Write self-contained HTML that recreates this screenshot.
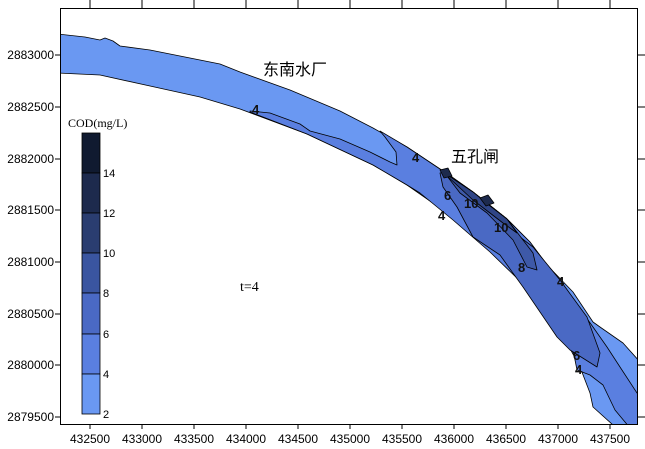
<!DOCTYPE html>
<html><head><meta charset="utf-8"><style>
body{margin:0;background:#fff;width:645px;height:449px;overflow:hidden}
svg{display:block;font-family:"Liberation Sans",Arial,sans-serif}
</style></head><body>
<svg width="645" height="449" viewBox="0 0 645 449">
<defs><clipPath id="c"><rect x="60" y="8" width="577" height="416"/></clipPath></defs>
<g clip-path="url(#c)" stroke="#000" stroke-width="0.8" stroke-linejoin="round">
<path fill="#6a98f2" d="M58,34 L85,37 L100,40 L105,38 L113,41 L120,46 L150,50 L180,56 L220,64 L240,72 L290,90 L340,111 L373,128 L407,147 L440,169 L473,192 L507,219 L530,242 L547,265 L573,292 L593,322 L600,327 L623,343 L640,362 L640,428 L613,425 L593,407 L590,393 L580,367 L567,343 L547,315 L523,283 L500,257 L473,237 L440,208 L407,185 L373,165 L307,134 L240,109 L200,97 L150,86 L100,75 L58,73 Z"/>
<path fill="#5a7fe0" d="M250,111 L270,113 L300,124 L310,131 L340,139 L370,152 L390,162 L397,165 L396,152 L385,137 L380,131 L407,147 L440,169 L473,192 L507,219 L530,242 L545,262 L560,280 L583,313 L593,327 L607,347 L620,367 L637,393 L640,395 L640,428 L630,428 L615,410 L603,385 L590,375 L577,370 L573,350 L557,327 L523,284 L490,252 L453,220 L420,193 L407,185 L373,165 L307,134 L250,112 Z"/>
<path fill="#4a69c4" d="M440,173 L443,187 L457,207 L473,237 L500,255 L523,287 L557,337 L570,350 L597,367 L600,353 L587,317 L560,280 L533,247 L520,237 L507,219 L473,192 L445,172 Z"/>
<path fill="#3e59a8" d="M447,176 L460,193 L487,213 L513,240 L527,267 L537,270 L533,253 L523,240 L507,219 L473,192 L450,178 Z"/>
<path fill="#2f4586" d="M445,174 L473,200 L503,223 L517,233 L507,219 L485,202 L473,192 L452,178 Z"/>
<path fill="#1d2a4d" d="M440,170 L448,168 L452,176 L444,178 Z M480,198 L488,195 L494,203 L486,206 Z"/>
</g>
<g font-size="13" font-weight="bold" fill="#111">
<text x="252" y="114">4</text><text x="412" y="162">4</text><text x="438" y="220">4</text>
<text x="444" y="200">6</text><text x="464" y="208">10</text><text x="494" y="232">10</text>
<text x="518" y="272">8</text><text x="557" y="286">4</text><text x="573" y="360">6</text><text x="575" y="374">4</text>
</g>
<rect x="60.5" y="8.5" width="577" height="416" fill="none" stroke="#000"/>
<g stroke="#000">
<path d="M90,8v-8M142,8v-8M194,8v-8M246,8v-8M298,8v-8M350,8v-8M402,8v-8M454,8v-8M506,8v-8M558,8v-8M610,8v-8"/>
<path d="M90,424v5M142,424v5M194,424v5M246,424v5M298,424v5M350,424v5M402,424v5M454,424v5M506,424v5M558,424v5M610,424v5"/>
<path d="M55,55h5M55,107h5M55,159h5M55,210h5M55,262h5M55,314h5M55,365h5M55,417h5"/>
<path d="M637,55h8M637,107h8M637,159h8M637,210h8M637,262h8M637,314h8M637,365h8M637,417h8"/>
</g>
<g font-size="12" fill="#000" text-anchor="middle">
<text x="90" y="443">432500</text><text x="142" y="443">433000</text><text x="194" y="443">433500</text><text x="246" y="443">434000</text><text x="298" y="443">434500</text><text x="350" y="443">435000</text><text x="402" y="443">435500</text><text x="454" y="443">436000</text><text x="506" y="443">436500</text><text x="558" y="443">437000</text><text x="610" y="443">437500</text>
</g>
<g font-size="12" fill="#000" text-anchor="end">
<text x="54" y="59">2883000</text><text x="54" y="111">2882500</text><text x="54" y="163">2882000</text><text x="54" y="214">2881500</text><text x="54" y="266">2881000</text><text x="54" y="318">2880500</text><text x="54" y="369">2880000</text><text x="54" y="421">2879500</text>
</g>
<text x="68" y="127" font-size="12" font-family="Liberation Serif,serif">COD(mg/L)</text>
<g stroke="#000" stroke-width="0.8">
<rect x="82" y="133" width="18" height="40" fill="#101a30"/>
<rect x="82" y="173" width="18" height="40" fill="#1d2a4d"/>
<rect x="82" y="213" width="18" height="40" fill="#2a3d70"/>
<rect x="82" y="253" width="18" height="40" fill="#3a55a0"/>
<rect x="82" y="293" width="18" height="41" fill="#4a69c4"/>
<rect x="82" y="334" width="18" height="40" fill="#5a7fe0"/>
<rect x="82" y="374" width="18" height="40" fill="#6a98f2"/>
</g>
<g font-size="11" fill="#000">
<text x="103" y="177">14</text><text x="103" y="217">12</text><text x="103" y="257">10</text><text x="103" y="297">8</text><text x="103" y="338">6</text><text x="103" y="378">4</text><text x="103" y="418">2</text>
</g>
<text x="240" y="291" font-size="14" font-family="Liberation Serif,serif">t=4</text>
<text x="263" y="75" font-size="16" font-family="'Liberation Sans','Noto Sans CJK SC',sans-serif">东南水厂</text>
<text x="451" y="162" font-size="16" font-family="'Liberation Sans','Noto Sans CJK SC',sans-serif">五孔闸</text>
</svg>
</body></html>
